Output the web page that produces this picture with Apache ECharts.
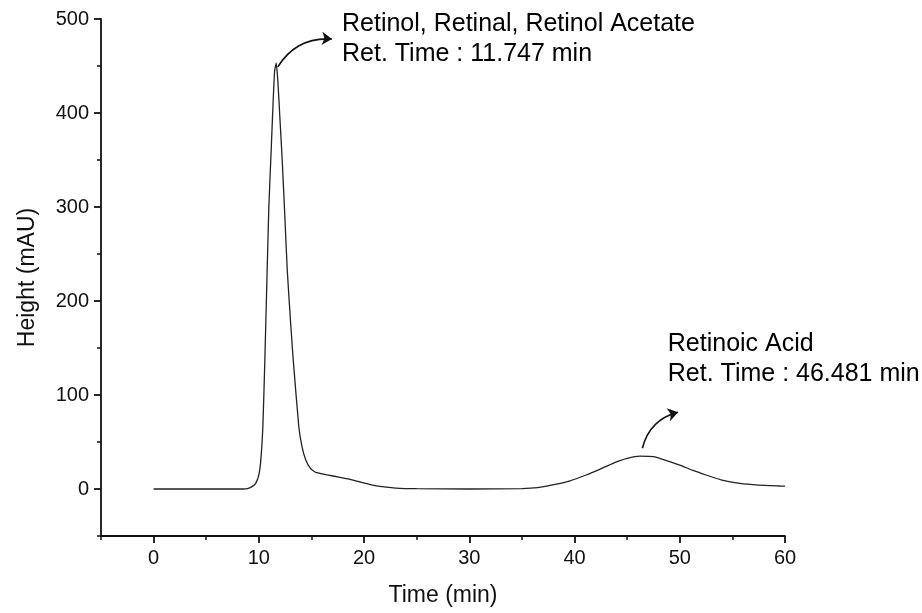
<!DOCTYPE html>
<html>
<head>
<meta charset="utf-8">
<script src="https://cdn.jsdelivr.net/npm/echarts@6/dist/echarts.min.js"></script>
<style>
html,body{margin:0;padding:0;background:#fff;}
#chart{width:922px;height:613px;}
</style>
</head>
<body>
<div id="chart"></div>
<script>
// ---- data ----
var timeMin = [0, 5, 8.5, 8.9, 9.35, 9.7, 10.0, 10.19, 10.38, 10.57, 10.79, 10.95, 11.17, 11.35, 11.5, 11.65,
  11.8, 12.0, 12.22, 12.45, 12.7, 13.0, 13.27, 13.8, 14.1, 14.45, 14.9, 15.4, 16.5, 17.6, 18.57,
  19.5, 20.5, 21.7, 23, 25, 30, 35, 36.5, 37.9, 39.5, 41.1, 42.5, 43.65, 45, 46.2, 47.5, 48.8,
  50, 51.2, 52.5, 54, 55.7, 57.5, 59.5, 60];
var heightMAU = [0, 0, 0, 0.3, 2.5, 6, 15, 31, 66, 137, 233, 300, 360, 410, 445, 453,
  435, 395, 350, 295, 233, 180, 137, 66, 45, 31, 22, 17.7, 15, 12.7, 10.6,
  7.8, 5, 2.5, 1, 0.3, 0, 0.5, 1.5, 4.3, 8.5, 14.9, 21.5, 27.3, 32.5, 35, 34.4, 30,
  25.5, 20, 14.9, 9.5, 6, 4.2, 3.2, 3];

var xMajorTicks = [0, 10, 20, 30, 40, 50, 60];
var xMinorTicks = [-5, 5, 15, 25, 35, 45, 55];
var yMajorTicks = [0, 100, 200, 300, 400, 500];
var yMinorTicks = [-50, 50, 150, 250, 350, 450];

var annotationTexts = [
  ['Retinol, Retinal, Retinol Acetate', 'Ret. Time : 11.747 min'],
  ['Retinoic Acid', 'Ret. Time : 46.481 min']
];
var annotationAnchors = [[17.9, 479], [48.86, 138]];
var arrowPaths = [
  [[11.8, 449], [16.95, 478.7]],
  [[46.45, 43.3], [49.84, 81.6]]
];

// ---- chart ----
var FONT = '"Liberation Sans", Arial, Helvetica, sans-serif';
var INK = '#000000';
var chart = echarts.init(document.getElementById('chart'), null, {renderer: 'canvas'});

var lineData = timeMin.map(function (t, i) { return [t, heightMAU[i]]; });
var textData = annotationAnchors.map(function (p, i) {
  return {value: p, name: annotationTexts[i].join('\n')};
});
var arrowData = arrowPaths.map(function (p) { return {coords: p}; });

var option = {
  backgroundColor: '#ffffff',
  animation: false,
  grid: {left: 101, right: 137, top: 19, bottom: 77, containLabel: false},
  xAxis: [{
    type: 'value', min: -5, max: 60, gridIndex: 0, position: 'bottom',
    name: 'Time (min)', nameLocation: 'middle', nameGap: 48,
    nameTextStyle: {fontFamily: FONT, fontSize: 23, color: '#111'},
    axisLine: {show: true, onZero: false, lineStyle: {color: '#111', width: 1.8}},
    axisTick: {show: true, customValues: xMajorTicks, length: 7, lineStyle: {color: '#111', width: 1.8}},
    axisLabel: {show: true, customValues: xMajorTicks, margin: 12, fontFamily: FONT, fontSize: 20, color: '#111'},
    splitLine: {show: false}
  }, {
    type: 'value', min: -5, max: 60, gridIndex: 0, position: 'bottom',
    axisLine: {show: false, onZero: false},
    axisTick: {show: true, customValues: xMinorTicks, length: 4, lineStyle: {color: '#111', width: 1.5}},
    axisLabel: {show: false},
    splitLine: {show: false}
  }],
  yAxis: [{
    type: 'value', min: -50, max: 500, gridIndex: 0, position: 'left',
    name: 'Height (mAU)', nameLocation: 'middle', nameGap: 62, nameRotate: 90,
    nameTextStyle: {fontFamily: FONT, fontSize: 23, color: '#111'},
    axisLine: {show: true, onZero: false, lineStyle: {color: '#111', width: 1.8}},
    axisTick: {show: true, customValues: yMajorTicks, length: 7, lineStyle: {color: '#111', width: 1.8}},
    axisLabel: {show: true, customValues: yMajorTicks, margin: 12, fontFamily: FONT, fontSize: 20, color: '#111'},
    splitLine: {show: false}
  }, {
    type: 'value', min: -50, max: 500, gridIndex: 0, position: 'left',
    axisLine: {show: false, onZero: false},
    axisTick: {show: true, customValues: yMinorTicks, length: 4, lineStyle: {color: '#111', width: 1.5}},
    axisLabel: {show: false},
    splitLine: {show: false}
  }],
  series: [{
    type: 'line', xAxisIndex: 0, yAxisIndex: 0,
    data: lineData, smooth: 0.15, showSymbol: false, symbol: 'none',
    lineStyle: {color: '#222', width: 1.3}, silent: true
  }, {
    type: 'lines', coordinateSystem: 'cartesian2d', xAxisIndex: 0, yAxisIndex: 0,
    data: arrowData, symbol: ['none', 'arrow'], symbolSize: 10,
    lineStyle: {color: '#111', width: 1.6, curveness: 0.3, opacity: 1}, silent: true
  }, {
    type: 'scatter', xAxisIndex: 0, yAxisIndex: 0,
    data: textData, symbolSize: 0, itemStyle: {color: '#000', opacity: 1}, silent: true,
    label: {
      show: true, position: 'right', distance: 0, align: 'left', verticalAlign: 'middle',
      formatter: function (p) { return p.name; }, opacity: 1,
      fontFamily: FONT, fontSize: 25, lineHeight: 30, color: INK
    }
  }]
};
chart.setOption(option);
</script>
</body>
</html>
